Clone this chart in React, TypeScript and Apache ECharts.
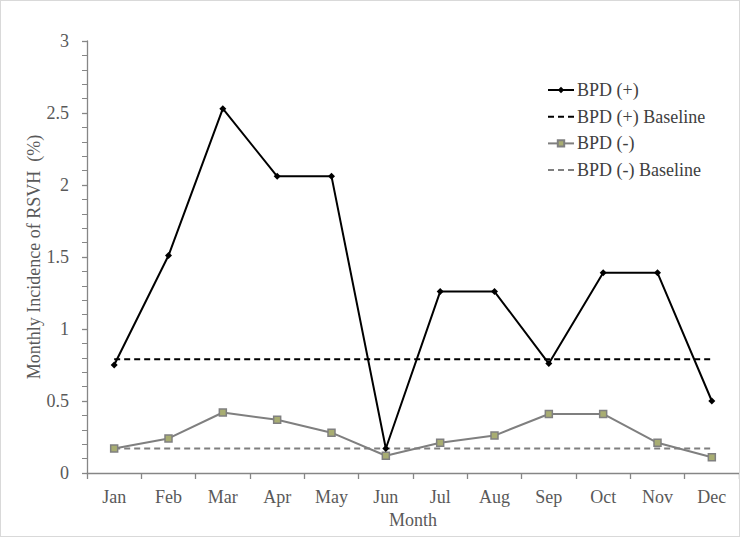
import React, { useEffect, useRef } from "react";
import * as echarts from "echarts";

const months = ["Jan", "Feb", "Mar", "Apr", "May", "Jun", "Jul", "Aug", "Sep", "Oct", "Nov", "Dec"];
const bpdPos = [0.75, 1.51, 2.53, 2.06, 2.06, 0.17, 1.26, 1.26, 0.76, 1.39, 1.39, 0.5];
const bpdPosBaseline = [0.79, 0.79, 0.79, 0.79, 0.79, 0.79, 0.79, 0.79, 0.79, 0.79, 0.79, 0.79];
const bpdNeg = [0.17, 0.24, 0.42, 0.37, 0.28, 0.12, 0.21, 0.26, 0.41, 0.41, 0.21, 0.11];
const bpdNegBaseline = [0.17, 0.17, 0.17, 0.17, 0.17, 0.17, 0.17, 0.17, 0.17, 0.17, 0.17, 0.17];
const seriesNames = ["BPD (+)", "BPD (+) Baseline", "BPD (-)", "BPD (-) Baseline"];

const FONT = "Liberation Serif";
const TEXT = "#595959";
const AXIS = "#868686";

export default function App() {
  const ref = useRef<HTMLDivElement>(null);
  useEffect(() => {
    document.body.style.margin = "0";
    const chart = echarts.init(ref.current!, null, { renderer: "svg" });
    chart.setOption({
      animation: false,
      backgroundColor: "#ffffff",
      textStyle: { fontFamily: FONT },
      grid: { left: 86, right: 0, top: 40, bottom: 63, containLabel: false },
      legend: {
        orient: "vertical",
        left: 541,
        top: 75,
        itemWidth: 26,
        itemHeight: 8,
        itemGap: 8.7,
        textStyle: { fontFamily: FONT, fontSize: 18, color: "#404040", padding: [0, 0, 0, -2] },
        data: [
          { name: seriesNames[0] },
          { name: seriesNames[1], itemStyle: { opacity: 0 } },
          { name: seriesNames[2] },
          { name: seriesNames[3], itemStyle: { opacity: 0 } },
        ],
      },
      xAxis: {
        type: "category",
        data: months,
        boundaryGap: true,
        name: "Month",
        nameLocation: "middle",
        nameGap: 38,
        nameMoveOverlap: false,
        nameTextStyle: { fontFamily: FONT, fontSize: 18, color: TEXT },
        axisLine: { lineStyle: { color: AXIS, width: 1.3 } },
        axisTick: { show: true, length: 6, alignWithLabel: false, lineStyle: { color: AXIS, width: 1.3 } },
        axisLabel: { fontFamily: FONT, fontSize: 18, color: TEXT, margin: 15 },
        splitLine: { show: false },
      },
      yAxis: {
        type: "value",
        min: 0,
        max: 3,
        interval: 0.5,
        name: "Monthly Incidence of RSVH  (%)",
        nameLocation: "middle",
        nameGap: 44,
        nameMoveOverlap: false,
        nameTextStyle: { fontFamily: FONT, fontSize: 18, color: TEXT },
        axisLine: { show: true, lineStyle: { color: AXIS, width: 1.3 } },
        axisTick: { show: true, length: 5, lineStyle: { color: AXIS, width: 1.3 } },
        minorTick: { show: true, splitNumber: 5, length: 5, lineStyle: { color: AXIS, width: 1 } },
        axisLabel: { fontFamily: FONT, fontSize: 18, color: TEXT, margin: 18 },
        splitLine: { show: false },
      },
      series: [
        {
          name: seriesNames[0],
          type: "line",
          data: bpdPos,
          symbol: "diamond",
          symbolSize: 7,
          lineStyle: { color: "#000000", width: 2 },
          itemStyle: { color: "#000000" },
          z: 4,
        },
        {
          name: seriesNames[1],
          type: "line",
          data: bpdPosBaseline,
          symbol: "none",
          lineStyle: { color: "#000000", width: 2, type: [6, 4] },
          itemStyle: { color: "#000000" },
          z: 3,
        },
        {
          name: seriesNames[2],
          type: "line",
          data: bpdNeg,
          symbol: "rect",
          symbolSize: 7,
          lineStyle: { color: "#7f7f7f", width: 2 },
          itemStyle: { color: "#a8ad72", borderColor: "#808080", borderWidth: 1.5 },
          z: 2,
        },
        {
          name: seriesNames[3],
          type: "line",
          data: bpdNegBaseline,
          symbol: "none",
          lineStyle: { color: "#7f7f7f", width: 2, type: [6, 4] },
          itemStyle: { color: "#7f7f7f" },
          z: 1,
        },
      ],
    });
    return () => chart.dispose();
  }, []);
  return (
    <div
      ref={ref}
      style={{ width: 740, height: 537, boxSizing: "border-box", border: "1px solid #d9d9d9" }}
    />
  );
}
